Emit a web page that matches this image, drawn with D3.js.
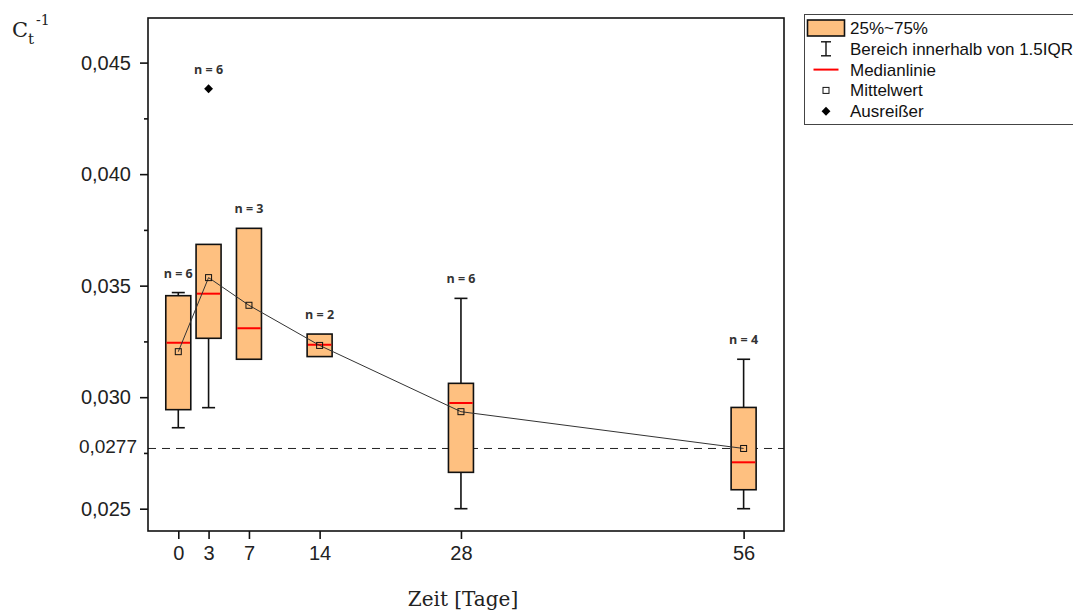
<!DOCTYPE html>
<html>
<head>
<meta charset="utf-8">
<script src="https://cdn.jsdelivr.net/npm/d3@7"></script>
<style>
  html, body { margin: 0; padding: 0; background: #fff; }
  svg { display: block; }
</style>
</head>
<body>
<svg id="chart" width="1073" height="610"></svg>
<script>
// Sampling days and box statistics per day
const days = [0, 3, 7, 14, 28, 56];
const q1 = [0.02944, 0.03264, 0.03170, 0.03182, 0.02663, 0.02585];
const q3 = [0.03455, 0.03685, 0.03757, 0.03283, 0.03062, 0.02954];
const medians = [0.03244, 0.03464, 0.03309, 0.03235, 0.02974, 0.02708];
const means = [0.03204, 0.03536, 0.03412, 0.03232, 0.02935, 0.02770];
const whiskerLow = [0.02863, 0.02953, 0.03170, 0.03182, 0.02500, 0.02500];
const whiskerHigh = [0.03469, 0.03685, 0.03757, 0.03283, 0.03443, 0.03170];
const outliers = [[], [0.04383], [], [], [], []];
const counts = [6, 6, 3, 2, 6, 4];
const referenceLevel = 0.0277;

// Axis tick values
const yMajorTicks = [0.025, 0.030, 0.035, 0.040, 0.045];
const yMinorTicks = [0.0275, 0.0325, 0.0375, 0.0425];
const xTicks = [0, 3, 7, 14, 28, 56];

// Legend entries
const legendLabels = ["25%~75%", "Bereich innerhalb von 1.5IQR", "Medianlinie", "Mittelwert", "Ausreißer"];

const W = 1073, H = 610;
const margin = { top: 18, right: 289, bottom: 79, left: 148 };
const innerW = W - margin.left - margin.right;
const innerH = H - margin.top - margin.bottom;

const boxFill = "#FEC080";
const boxW = 25, capW = 13;

const svg = d3.select("#chart");
const g = svg.append("g").attr("transform", `translate(${margin.left},${margin.top})`);

const x = d3.scaleLinear().domain([-3, 60]).range([0, innerW]);
const y = d3.scaleLinear().domain([0.024, 0.047]).range([innerH, 0]);

const de = d3.formatLocale({ decimal: ",", thousands: ".", grouping: [3], currency: ["", "€"] });
const fmt3 = de.format(".3f");
const fmt4 = de.format(".4f");

const sans = "'Liberation Sans', Arial, sans-serif";

// Reference level
g.append("line")
  .attr("x1", 0).attr("x2", innerW)
  .attr("y1", y(referenceLevel)).attr("y2", y(referenceLevel))
  .attr("stroke", "#222").attr("stroke-width", 1)
  .attr("stroke-dasharray", "8,6");

// Boxes
const stats = days.map((d, i) => ({
  day: d, q1: q1[i], q3: q3[i], med: medians[i], mean: means[i],
  lo: whiskerLow[i], hi: whiskerHigh[i], out: outliers[i], n: counts[i]
}));

const box = g.selectAll(".box").data(stats).join("g").attr("class", "box");

// Whiskers
box.each(function (s) {
  const sel = d3.select(this);
  const cx = x(s.day);
  if (s.hi > s.q3) {
    sel.append("line").attr("x1", cx).attr("x2", cx).attr("y1", y(s.q3)).attr("y2", y(s.hi))
      .attr("stroke", "#111").attr("stroke-width", 1.6);
    sel.append("line").attr("x1", cx - capW / 2).attr("x2", cx + capW / 2).attr("y1", y(s.hi)).attr("y2", y(s.hi))
      .attr("stroke", "#111").attr("stroke-width", 1.6);
  }
  if (s.lo < s.q1) {
    sel.append("line").attr("x1", cx).attr("x2", cx).attr("y1", y(s.q1)).attr("y2", y(s.lo))
      .attr("stroke", "#111").attr("stroke-width", 1.6);
    sel.append("line").attr("x1", cx - capW / 2).attr("x2", cx + capW / 2).attr("y1", y(s.lo)).attr("y2", y(s.lo))
      .attr("stroke", "#111").attr("stroke-width", 1.6);
  }
});

box.append("rect")
  .attr("x", s => x(s.day) - boxW / 2)
  .attr("y", s => y(s.q3))
  .attr("width", boxW)
  .attr("height", s => y(s.q1) - y(s.q3))
  .attr("fill", boxFill)
  .attr("stroke", "#111").attr("stroke-width", 1.6);

box.append("line")
  .attr("x1", s => x(s.day) - boxW / 2 + 0.8)
  .attr("x2", s => x(s.day) + boxW / 2 - 0.8)
  .attr("y1", s => y(s.med)).attr("y2", s => y(s.med))
  .attr("stroke", "#FF0000").attr("stroke-width", 2);

// Mean connecting line
g.append("path")
  .datum(stats)
  .attr("fill", "none")
  .attr("stroke", "#333").attr("stroke-width", 1)
  .attr("d", d3.line().x(s => x(s.day)).y(s => y(s.mean)));

// Mean markers
g.selectAll(".mean").data(stats).join("rect")
  .attr("class", "mean")
  .attr("x", s => x(s.day) - 3).attr("y", s => y(s.mean) - 3)
  .attr("width", 6).attr("height", 6)
  .attr("fill", "none").attr("stroke", "#111").attr("stroke-width", 1);

// Outliers
const diamond = d3.symbol().type(d3.symbolDiamond2).size(50);
stats.forEach(s => {
  s.out.forEach(v => {
    g.append("path").attr("d", diamond)
      .attr("transform", `translate(${x(s.day)},${y(v)})`)
      .attr("fill", "#000");
  });
});

// Sample count labels
g.selectAll(".nlab").data(stats).join("text")
  .attr("class", "nlab")
  .attr("x", s => x(s.day))
  .attr("y", s => y(d3.max([s.hi, s.q3, ...s.out])) - 15)
  .attr("text-anchor", "middle")
  .attr("font-family", "'Open Sans', 'Noto Sans', sans-serif")
  .attr("font-weight", "bold")
  .attr("font-size", 12.5)
  .attr("fill", "#333")
  .text(s => `n = ${s.n}`);

// Frame
g.append("rect")
  .attr("x", 0).attr("y", 0).attr("width", innerW).attr("height", innerH)
  .attr("fill", "none").attr("stroke", "#111").attr("stroke-width", 1.6);

// Y axis
const yAxis = g.append("g")
  .call(d3.axisLeft(y).tickValues(yMajorTicks).tickFormat(fmt3).tickSize(8).tickPadding(9));
const yMinor = g.append("g")
  .call(d3.axisLeft(y).tickValues(yMinorTicks).tickFormat("").tickSize(4));
const yRef = g.append("g")
  .call(d3.axisLeft(y).tickValues([referenceLevel]).tickFormat(fmt4).tickSize(0).tickPadding(11));

[yAxis, yMinor, yRef].forEach(a => {
  a.select(".domain").remove();
  a.selectAll("line").attr("stroke", "#111").attr("stroke-width", 1.6);
  a.selectAll("text").attr("font-family", sans).attr("font-size", 20).attr("fill", "#222");
});
yRef.selectAll("text").attr("font-size", 19).attr("dy", "0.2em");

// X axis
const xAxis = g.append("g")
  .attr("transform", `translate(0,${innerH})`)
  .call(d3.axisBottom(x).tickValues(xTicks).tickFormat(d3.format("d")).tickSize(8).tickPadding(7));
xAxis.select(".domain").remove();
xAxis.selectAll("line").attr("stroke", "#111").attr("stroke-width", 1.6);
xAxis.selectAll("text").attr("font-family", sans).attr("font-size", 20).attr("fill", "#222");

// Axis titles
svg.append("text")
  .attr("x", margin.left + innerW / 2 - 3)
  .attr("y", 606)
  .attr("text-anchor", "middle")
  .attr("font-family", "'DejaVu Serif', serif")
  .attr("font-size", 20)
  .attr("fill", "#222")
  .text("Zeit [Tage]");

const yt = svg.append("text")
  .attr("x", 12).attr("y", 37)
  .attr("font-family", "'DejaVu Serif', serif")
  .attr("font-size", 21)
  .attr("fill", "#222");
yt.append("tspan").text("C");
yt.append("tspan").attr("font-size", 15).attr("dy", 7).text("t");
yt.append("tspan").attr("font-size", 14).attr("dy", -19).attr("dx", 2).text("-1");

// Legend
const lg = svg.append("g").attr("transform", "translate(804.5,14.5)");
lg.append("rect").attr("x", 0).attr("y", 0).attr("width", 300).attr("height", 110)
  .attr("fill", "#fff").attr("stroke", "#444").attr("stroke-width", 1);

const rowY = i => 13.5 + i * 20.8;
const symX = 21.5;

lg.append("rect").attr("x", 3).attr("y", rowY(0) - 8).attr("width", 37).attr("height", 16)
  .attr("fill", boxFill).attr("stroke", "#111").attr("stroke-width", 1.6);

lg.append("line").attr("x1", symX).attr("x2", symX).attr("y1", rowY(1) - 7).attr("y2", rowY(1) + 7)
  .attr("stroke", "#111").attr("stroke-width", 1.4);
lg.append("line").attr("x1", symX - 5).attr("x2", symX + 5).attr("y1", rowY(1) - 7).attr("y2", rowY(1) - 7)
  .attr("stroke", "#111").attr("stroke-width", 1.4);
lg.append("line").attr("x1", symX - 5).attr("x2", symX + 5).attr("y1", rowY(1) + 7).attr("y2", rowY(1) + 7)
  .attr("stroke", "#111").attr("stroke-width", 1.4);

lg.append("line").attr("x1", 9).attr("x2", 34).attr("y1", rowY(2)).attr("y2", rowY(2))
  .attr("stroke", "#FF0000").attr("stroke-width", 2);

lg.append("rect").attr("x", symX - 3).attr("y", rowY(3) - 3).attr("width", 6).attr("height", 6)
  .attr("fill", "none").attr("stroke", "#111").attr("stroke-width", 1);

lg.append("path").attr("d", diamond).attr("transform", `translate(${symX},${rowY(4)})`).attr("fill", "#000");

lg.selectAll(".ltext").data(legendLabels).join("text")
  .attr("class", "ltext")
  .attr("x", 45.5)
  .attr("y", (d, i) => rowY(i))
  .attr("dy", "0.35em")
  .attr("font-family", sans)
  .attr("font-size", 17)
  .attr("fill", "#111")
  .text(d => d);
</script>
</body>
</html>
